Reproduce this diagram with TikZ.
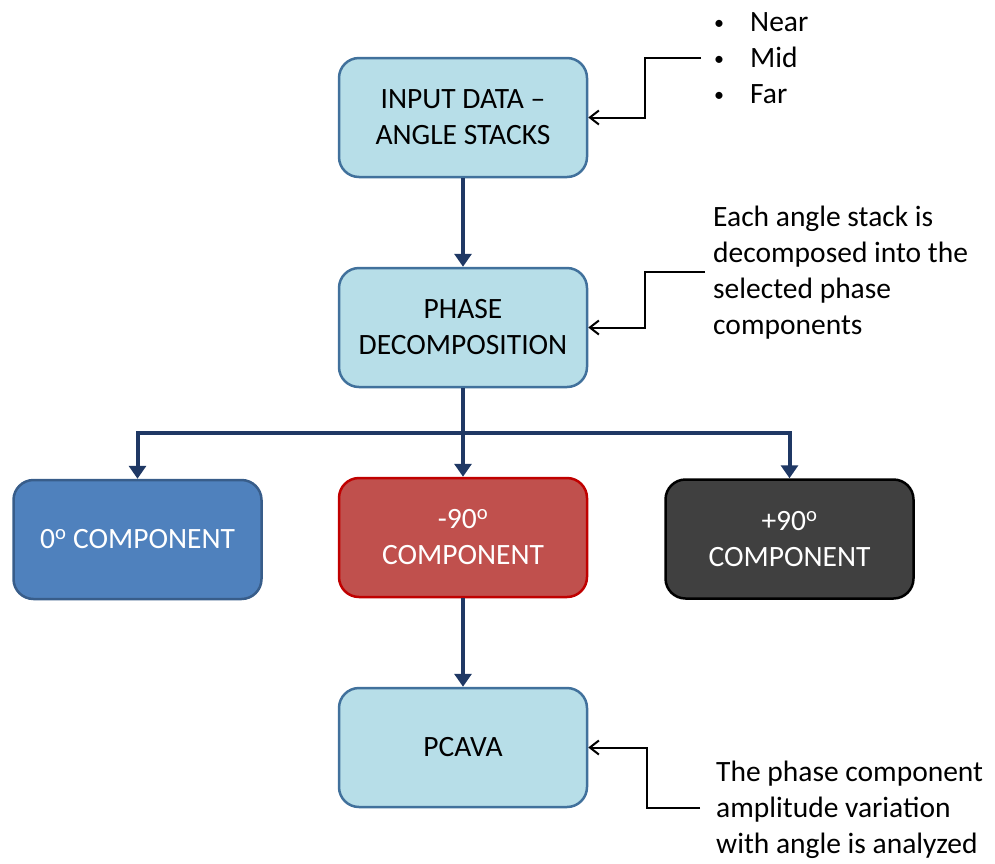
\documentclass[tikz,border=0pt]{standalone}
\usepackage{fontspec}
\setmainfont{Carlito}
\usetikzlibrary{arrows.meta}
\definecolor{lbfill}{RGB}{183,222,232}
\definecolor{lbdraw}{RGB}{65,113,156}
\definecolor{bfill}{RGB}{79,129,189}
\definecolor{bdraw}{RGB}{56,93,138}
\definecolor{rfill}{RGB}{192,80,77}
\definecolor{rdraw}{RGB}{192,0,0}
\definecolor{gfill}{RGB}{64,64,64}
\definecolor{navy}{RGB}{31,56,100}
\newcommand{\mybul}{\makebox[38pt][l]{\hspace{2pt}\fontsize{20}{36}\selectfont\raisebox{2pt}{•}}}
\tikzset{
  txt/.style={font=\fontsize{29.5}{36}\selectfont},
  box/.style={txt, rounded corners=20pt, minimum width=248pt, minimum height=119pt, line width=2.5pt, align=center, inner sep=0pt},
  lbox/.style={box, fill=lbfill, draw=lbdraw, text=black},
  flow/.style={draw=navy, line width=4pt, -{Triangle[width=17pt,length=13pt]}},
  note/.style={draw=black, line width=2pt, -{Straight Barb[width=14pt,length=9pt]}},
}
\begin{document}
\begin{tikzpicture}[x=1pt,y=-1pt]
\useasboundingbox (0,0) rectangle (995,863);
\node[lbox] (inp) at (463,117.5) {INPUT DATA –\\ANGLE STACKS};
\node[lbox] (phase) at (463,327.5) {PHASE\\DECOMPOSITION};
\node[box, fill=bfill, draw=bdraw, text=white] (c0) at (137.5,539.5) {0\textsuperscript{o} COMPONENT};
\node[box, fill=rfill, draw=rdraw, text=white] (cm90) at (463,537.5) {-90\textsuperscript{o}\\COMPONENT};
\node[box, fill=gfill, draw=black, text=white] (cp90) at (789.5,539) {+90\textsuperscript{o}\\COMPONENT};
\node[lbox] (pcava) at (463,747.5) {PCAVA};
\node[txt, anchor=west, align=left, inner sep=0pt] (tb) at (712,58) {\mybul Near\\\mybul Mid\\\mybul Far};
\node[txt, anchor=west, align=left, inner sep=0pt] (te) at (713,273) {Each angle stack is\\decomposed into the\\selected phase\\components};
\node[txt, anchor=west, align=left, inner sep=0pt] (tp) at (716,810) {The phase component\\amplitude variation\\with angle is analyzed};
\coordinate (e1) at (701,58);
\coordinate (e2) at (705,272);
\coordinate (e3) at (700,808);
\coordinate (split) at (463,433);
\draw[flow] (inp) -- (phase);
\draw[navy, line width=4pt] (phase) -- (split);
\draw[flow] (split) -- (cm90);
\draw[flow] (split) -| (c0);
\draw[flow] (split) -| (cp90);
\draw[flow] (cm90) -- (pcava);
\draw[note] (e1) -| (645,117.5) -- (inp.east);
\draw[note] (e2) -| (645,327.5) -- (phase.east);
\draw[note] (e3) -| (647,747.5) -- (pcava.east);
\end{tikzpicture}
\end{document}
